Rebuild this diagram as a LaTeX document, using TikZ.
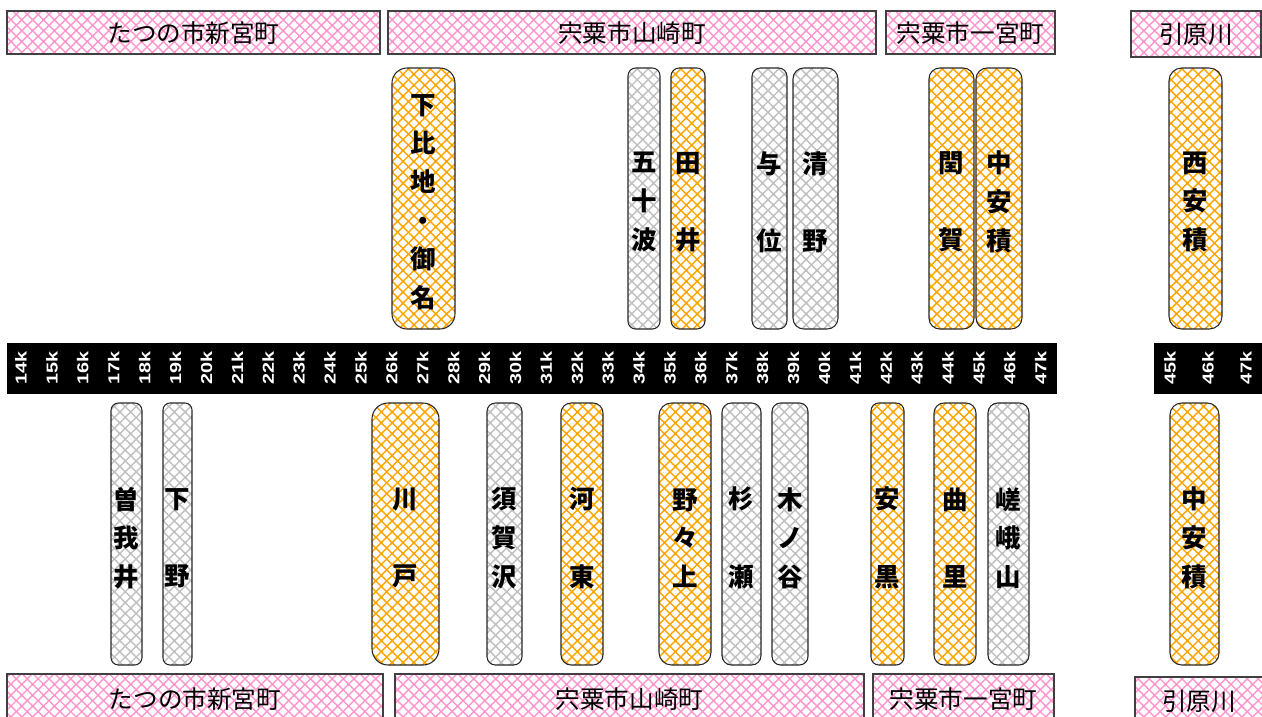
\documentclass[tikz,border=0pt]{standalone}
\usepackage{fontspec}
\newfontfamily\cjk{Noto Sans CJK JP}
\newfontfamily\kmfont[FakeStretch=1.25]{Liberation Sans}
\usetikzlibrary{patterns}

\definecolor{oj}{RGB}{255,165,0}
\definecolor{gy}{RGB}{192,192,192}
\definecolor{pk}{RGB}{255,150,205}

\pgfdeclarepatternformonly{lattice}{\pgfqpoint{-1pt}{-1pt}}{\pgfqpoint{7.2pt}{7.2pt}}{\pgfqpoint{6.2pt}{6.2pt}}{%
  \pgfsetlinewidth{0.8pt}%
  \pgfpathmoveto{\pgfqpoint{-0.5pt}{-0.5pt}}\pgfpathlineto{\pgfqpoint{6.7pt}{6.7pt}}%
  \pgfpathmoveto{\pgfqpoint{-0.5pt}{6.7pt}}\pgfpathlineto{\pgfqpoint{6.7pt}{-0.5pt}}%
  \pgfusepath{stroke}}

\tikzset{
  banner/.style={draw=black!75,line width=0.8pt,pattern=lattice,pattern color=pk},
  areaname/.style={font=\cjk\fontsize{14}{16}\selectfont},
  stnbox/.style={draw=black!85,line width=0.6pt,pattern=lattice},
  stnname/.style={font=\cjk\bfseries\fontsize{14.5}{22}\selectfont,align=center},
  kmlabel/.style={text=white,rotate=90,font=\kmfont\bfseries\fontsize{9}{10}\selectfont}
}

\begin{document}
\begin{tikzpicture}
[x=0.02cm,y=-0.02cm]
\useasboundingbox (0,0) rectangle (1262,717);

% areas, top
\draw[banner] (7,11) rectangle (380,54);
\node[areaname] (tatsunoT) at (193.5,33) {たつの市新宮町};
\draw[banner] (388,11) rectangle (876,54);
\node[areaname] (yamazakiT) at (632,33) {宍粟市山崎町};
\draw[banner] (886,11) rectangle (1055,54);
\node[areaname] (ichinomiyaT) at (970.5,33) {宍粟市一宮町};
\draw[banner] (1131,11) rectangle (1261,57);
\node[areaname] (hikiharaT) at (1196,34) {引原川};

% areas, bottom
\draw[banner] (7,674) rectangle (383,722);
\node[areaname] (tatsunoB) at (195,699) {たつの市新宮町};
\draw[banner] (395,674) rectangle (864,722);
\node[areaname] (yamazakiB) at (629.5,699) {宍粟市山崎町};
\draw[banner] (873,674) rectangle (1054,722);
\node[areaname] (ichinomiyaB) at (963.5,699) {宍粟市一宮町};
\draw[banner] (1135,677) rectangle (1266,722);
\node[areaname] (hikiharaB) at (1199,701) {引原川};

% km scale
\fill[black] (7,343) rectangle (1057,394);
\foreach \k in {14,...,47}
  \node[kmlabel] (km\k) at ({21+30.9*(\k-14)},368) {\k k};
\fill[black] (1154,343) rectangle (1262,394);
\foreach \k [count=\i from 0] in {45,46,47}
  \node[kmlabel] (kmR\k) at ({1170+38*\i},368) {\k k};

% stations, upper side
\foreach \xa/\xb/\col/\txt [count=\i] in {
  392/455/oj/{下\\比\\地\\・\\御\\名},
  628/660/gy/{五\\十\\波},
  671/705/oj/{田\\[22pt]井},
  752/787/gy/{与\\[22pt]位},
  793/838/gy/{清\\[22pt]野},
  929/974/oj/{閏\\[22pt]賀},
  976/1022/oj/{中\\安\\積},
  1169/1222/oj/{西\\安\\積}}
{
  \pgfmathsetmacro\rad{0.0048*(\xb-\xa)}
  \draw[stnbox,pattern color=\col,rounded corners=\rad cm] (\xa,68) rectangle (\xb,329);
  \node[stnname] (up\i) at ({(\xa+\xb)/2},202) {\txt};
}

% stations, lower side
\foreach \xa/\xb/\col/\txt [count=\i] in {
  111/142/gy/{曽\\我\\井},
  163/192/gy/{下\\[22pt]野},
  372/439/oj/{川\\[22pt]戸},
  487/522/gy/{須\\賀\\沢},
  561/603/oj/{河\\[22pt]東},
  659/711/oj/{野\\々\\上},
  722/761/gy/{杉\\[22pt]瀬},
  772/808/gy/{木\\ノ\\谷},
  871/904/oj/{安\\[22pt]黒},
  934/976/oj/{曲\\[22pt]里},
  988/1029/gy/{嵯\\峨\\山},
  1170/1219/oj/{中\\安\\積}}
{
  \pgfmathsetmacro\rad{0.0048*(\xb-\xa)}
  \draw[stnbox,pattern color=\col,rounded corners=\rad cm] (\xa,403) rectangle (\xb,665);
  \node[stnname] (low\i) at ({(\xa+\xb)/2},538) {\txt};
}
\end{tikzpicture}
\end{document}
